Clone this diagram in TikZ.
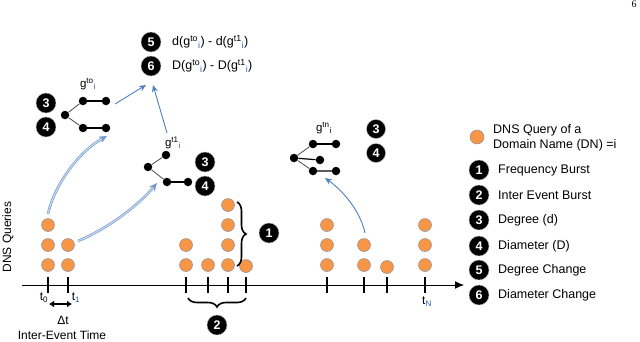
\documentclass[tikz,border=0pt]{standalone}
\usepackage{fontspec}
\setmainfont{Liberation Sans}
\newfontfamily\pagefont{Liberation Serif}
\usetikzlibrary{arrows.meta,decorations.pathreplacing}
\definecolor{qorange}{RGB}{247,150,70}
\definecolor{qedge}{RGB}{140,145,160}
\definecolor{arrblue}{RGB}{79,129,189}
\definecolor{arrlight}{RGB}{195,212,235}
\definecolor{subblue}{RGB}{40,90,170}
\begin{document}
\begin{tikzpicture}[x=1pt,y=-1pt,
  query/.style={circle,fill=qorange,draw=qedge,line width=0.5pt,minimum size=13pt,inner sep=0pt},
  num/.style={circle,fill=black,draw=gray!60,line width=0.4pt,minimum size=20pt,inner sep=0pt,text=white,font=\bfseries\fontsize{12.5}{12.5}\selectfont},
  gnode/.style={circle,fill=black,minimum size=8.5pt,inner sep=0pt},
  gedge/.style={draw=gray!60!black,line width=0.8pt},
  bedge/.style={draw=black,line width=1.2pt},
  lbl/.style={font=\fontsize{12.5}{15}\selectfont,anchor=west,inner sep=0pt,align=left},
  glbl/.style={font=\fontsize{11.5}{12}\selectfont,inner sep=0pt},
  tickmark/.style={line width=1.2pt},
  fatarrow/.style={draw=arrblue!80,double=arrlight,double distance=1.3pt,line width=0.6pt,-{Stealth[length=8pt,width=7pt]}},
  thinarrow/.style={draw=arrblue,line width=0.9pt,-{Stealth[length=7pt,width=6pt]}},
  bracestyle/.style={draw=black,line width=1.6pt,decorate,decoration={brace,amplitude=9pt}}
]
\useasboundingbox (0,0) rectangle (640,341);

% page number
\node[font=\pagefont\fontsize{10}{10}\selectfont,inner sep=0pt,anchor=north] (pg) at (634,1) {6};

% axis
\coordinate (ax0) at (22,285);
\coordinate (ax1) at (464,285);
\draw[line width=1pt,-{Latex[length=9pt,width=8pt]}] (ax0) -- (ax1);
\foreach \x in {48,68,186,208,228,246,327,364,387,425}{
  \coordinate (tt\x) at (\x,277);
  \coordinate (tb\x) at (\x,293);
  \draw[tickmark] (tt\x) -- (tb\x);
}

% queries
\foreach \x/\ys in {48/{265,245,225},68/{265,245},186/{265,245},208/{265},228/{265,245,225,205},246/{266},327/{265,245,225},364/{265,245},387/{267},425/{265,245,225}}{
  \foreach \y in \ys {\node[query] (q\x-\y) at (\x,\y) {};}
}

% axis labels
\node[font=\fontsize{12}{12}\selectfont,rotate=90,inner sep=0pt] (ylab) at (8,237) {DNS Queries};
\node[font=\fontsize{12}{12}\selectfont,inner sep=0pt] (t0) at (44,298) {t\textsubscript{0}};
\node[font=\fontsize{12}{12}\selectfont,inner sep=0pt] (t1) at (76,298) {t\textsubscript{\color{subblue}1}};
\node[font=\fontsize{12}{12}\selectfont,inner sep=0pt] (tN) at (427,302) {t\textsubscript{\color{subblue}N}};
\coordinate (dtl) at (49,304);
\coordinate (dtr) at (72,304);
\draw[line width=1.5pt,{Latex[length=5pt,width=7pt]}-{Latex[length=5pt,width=7pt]}] (dtl) -- (dtr);
\node[font=\fontsize{12}{12}\selectfont,inner sep=0pt] (dt) at (63,320) {Δt};
\node[font=\fontsize{12}{12}\selectfont,inner sep=0pt] (iet) at (62,335) {Inter-Event Time};

% braces
\coordinate (b1a) at (237,202);
\coordinate (b1b) at (237,266);
\draw[bracestyle] (b1a) -- (b1b);
\node[num] (n1) at (269,233) {1};
\coordinate (b2a) at (246,298);
\coordinate (b2b) at (188,298);
\draw[bracestyle] (b2a) -- (b2b);
\node[num] (n2) at (217,325) {2};

% graph g^to
\node[glbl] (gtolab) at (88,84) {g\textsuperscript{to}\textsubscript{\color{subblue}i}};
\node[gnode] (a0) at (65,115) {};
\node[gnode] (a1) at (83,101) {};
\node[gnode] (a2) at (106,101) {};
\node[gnode] (a3) at (83,128) {};
\node[gnode] (a4) at (106,128) {};
\draw[gedge] (a0) -- (a1);
\draw[gedge] (a0) -- (a3);
\draw[bedge] (a1) -- (a2);
\draw[bedge] (a3) -- (a4);
\node[num] (a3n) at (46,103) {3};
\node[num] (a4n) at (46,127) {4};

% graph g^t1
\node[glbl] (gt1lab) at (173,143) {g\textsuperscript{t1}\textsubscript{\color{subblue}i}};
\node[gnode] (b0) at (148,167) {};
\node[gnode] (b1) at (166,155) {};
\node[gnode] (b2) at (167,182) {};
\node[gnode] (b3) at (188,182) {};
\draw[gedge] (b0) -- (b1);
\draw[gedge] (b0) -- (b2);
\draw[bedge] (b2) -- (b3);
\node[num] (b3n) at (205,162) {3};
\node[num] (b4n) at (205,186) {4};

% graph g^tn
\node[glbl] (gtnlab) at (324,128) {g\textsuperscript{tn}\textsubscript{i}};
\node[gnode] (c0) at (294,158) {};
\node[gnode] (c1) at (313,144) {};
\node[gnode] (c2) at (336,144) {};
\node[gnode] (c3) at (320,160) {};
\node[gnode] (c4) at (313,171) {};
\node[gnode] (c5) at (336,171) {};
\draw[gedge] (c0) -- (c1);
\draw[bedge] (c0) -- (c3);
\draw[gedge] (c0) -- (c4);
\draw[bedge] (c1) -- (c2);
\draw[draw=gray!70!black,line width=1.4pt] (c4) -- (c5);
\node[num,minimum size=19pt] (c3n) at (376,129) {3};
\node[num,minimum size=19pt] (c4n) at (376,153) {4};

% changes 5 6
\node[num] (n5) at (151,42) {5};
\node[num] (n6) at (151,66) {6};
\node[lbl] (e5) at (172,42) {d(g\textsuperscript{to}\textsubscript{\color{subblue}i}) - d(g\textsuperscript{t1}\textsubscript{\color{subblue}i})};
\node[lbl] (e6) at (172,66) {D(g\textsuperscript{to}\textsubscript{\color{subblue}i}) - D(g\textsuperscript{t1}\textsubscript{\color{subblue}i})};

% arrows
\coordinate (ar1s) at (115,104);
\coordinate (ar1e) at (146,85);
\draw[thinarrow] (ar1s) -- (ar1e);
\coordinate (ar2s) at (167,133);
\coordinate (ar2e) at (153,85);
\draw[thinarrow] (ar2s) -- (ar2e);
\coordinate (f1s) at (48,214);
\coordinate (f1e) at (107,136);
\draw[fatarrow] (f1s) .. controls (54,186) and (78,152) .. (f1e);
\coordinate (f2s) at (78,241);
\coordinate (f2e) at (157,183);
\draw[fatarrow] (f2s) .. controls (105,230) and (137,207) .. (f2e);
\coordinate (f3s) at (365,233);
\coordinate (f3e) at (325,178);
\draw[thinarrow] (f3s) .. controls (360,210) and (342,190) .. (f3e);

% legend
\node[query,minimum size=14pt] (lq) at (477,137) {};
\node[lbl] (lqt) at (493,137.5) {DNS Query of a\\Domain Name (DN) =i};
\node[num] (l1) at (479,170) {1};
\node[lbl] (l1t) at (498,170) {Frequency Burst};
\node[num] (l2) at (479,195) {2};
\node[lbl] (l2t) at (498,195) {Inter Event Burst};
\node[num] (l3) at (479,220) {3};
\node[lbl] (l3t) at (498,220) {Degree (d)};
\node[num] (l4) at (479,246) {4};
\node[lbl] (l4t) at (498,246) {Diameter (D)};
\node[num] (l5) at (479,270) {5};
\node[lbl] (l5t) at (498,270) {Degree Change};
\node[num] (l6) at (479,295) {6};
\node[lbl] (l6t) at (498,295) {Diameter Change};
\end{tikzpicture}
\end{document}
